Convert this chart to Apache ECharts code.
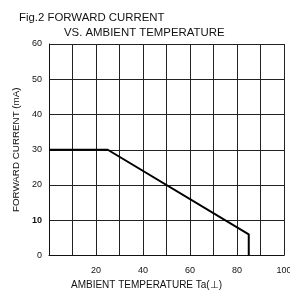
<!DOCTYPE html>
<html>
<head>
<meta charset="utf-8">
<script src="https://cdn.jsdelivr.net/npm/echarts@6/dist/echarts.min.js"></script>
<style>
  html, body { margin: 0; padding: 0; background: #fff; }
  #chart { width: 290px; height: 293px; }
</style>
</head>
<body>
<div id="chart"></div>
<script>
// derating curve: temperature (℃) vs forward current (mA)
var temps = [0, 25, 85, 85];
var currents = [30, 30, 6, 0];
var yTicks = [0, 10, 20, 30, 40, 50, 60];
var xTicks = [0, 10, 20, 30, 40, 50, 60, 70, 80, 90, 100];

var chart = echarts.init(document.getElementById('chart'));
var font = '"Liberation Sans", Arial, sans-serif';

var points = temps.map(function (t, i) { return [t, currents[i]]; });

var option = {
    animation: false,
    backgroundColor: '#fff',
    title: [
        {
            text: 'Fig.2 FORWARD CURRENT',
            left: 14, top: 7,
            textStyle: { fontSize: 11.4, fontWeight: 'normal', color: '#111', fontFamily: font }
        },
        {
            text: 'VS. AMBIENT TEMPERATURE',
            left: 59, top: 22,
            textStyle: { fontSize: 11.4, fontWeight: 'normal', color: '#111', fontFamily: font }
        }
    ],
    grid: {
        left: 49,
        top: 44,
        width: 235,
        height: 211.5,
        outerBoundsMode: 'none'
    },
    xAxis: {
        type: 'value',
        min: xTicks[0],
        max: xTicks[xTicks.length - 1],
        interval: 10,
        name: 'AMBIENT TEMPERATURE Ta(⊥)',
        nameLocation: 'middle',
        nameGap: 24,
        nameTextStyle: { fontSize: 10, color: '#111', fontFamily: font, padding: [0, 40, 0, 0] },
        axisLine: { lineStyle: { color: '#111', width: 1 } },
        axisTick: { show: false },
        axisLabel: {
            fontSize: 9, color: '#111', fontFamily: font, margin: 11,
            formatter: function (v) { return (v % 20 === 0 && v !== 0) ? String(v) : ''; }
        },
        splitLine: { show: true, lineStyle: { color: '#222', width: 1 } }
    },
    yAxis: {
        type: 'value',
        min: yTicks[0],
        max: yTicks[yTicks.length - 1],
        interval: 10,
        name: 'FORWARD CURRENT (mA)',
        nameLocation: 'middle',
        nameGap: 25,
        nameTextStyle: { fontSize: 9.8, color: '#111', fontFamily: font },
        axisLine: { show: true, lineStyle: { color: '#111', width: 1 } },
        axisTick: { show: false },
        axisLabel: {
            fontSize: 9, color: '#111', fontFamily: font, margin: 7,
            formatter: function (v) { return v === 10 ? '{b|10}' : String(v); },
            rich: { b: { fontSize: 9, fontWeight: 'bold', color: '#111', fontFamily: font } }
        },
        splitLine: { show: true, lineStyle: { color: '#222', width: 1 } }
    },
    series: [
        {
            type: 'line',
            data: points,
            symbol: 'none',
            lineStyle: { color: '#000', width: 2 },
            z: 5
        }
    ]
};
chart.setOption(option);
</script>
</body>
</html>
